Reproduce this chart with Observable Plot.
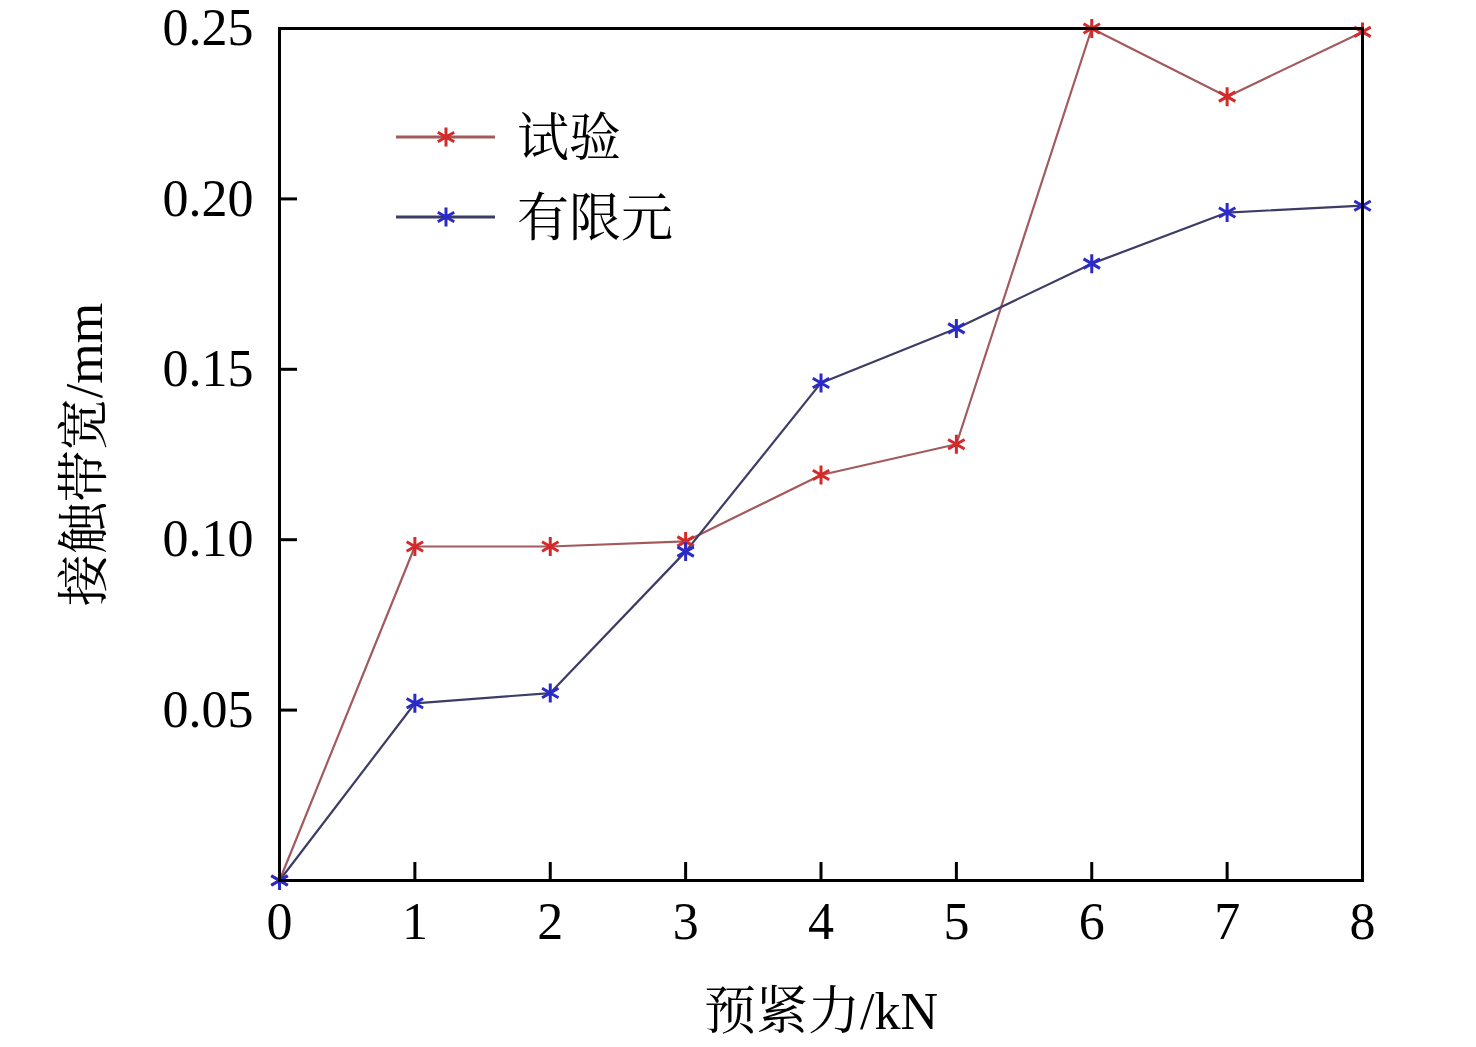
<!DOCTYPE html>
<html>
<head>
<meta charset="utf-8">
<script src="https://cdn.jsdelivr.net/npm/d3@7"></script>
<script src="https://cdn.jsdelivr.net/npm/@observablehq/plot@0.6"></script>
<style>
  html, body { margin: 0; padding: 0; background: #fff; }
  #chart svg { display: block; }
</style>
</head>
<body>
<div id="chart"></div>
<script>
const preload = [0, 1, 2, 3, 4, 5, 6, 7, 8];
const testValues = [0, 0.098, 0.098, 0.0995, 0.119, 0.128, 0.250, 0.230, 0.249];
const feaValues  = [0, 0.052, 0.055, 0.0965, 0.146, 0.162, 0.181, 0.196, 0.198];
const seriesNames = ["试验", "有限元"];
const xTicks = [0, 1, 2, 3, 4, 5, 6, 7, 8];
const yTicks = [0.05, 0.10, 0.15, 0.20, 0.25];
const xLabel = "预紧力/kN";
const yLabel = "接触带宽/mm";

const lineColors = ["#a25a5e", "#3c3c66"];
const markColors = ["#d42a2a", "#2a2ac8"];

const data = [];
preload.forEach((x, i) => data.push({x, y: testValues[i], s: seriesNames[0]}));
preload.forEach((x, i) => data.push({x, y: feaValues[i], s: seriesNames[1]}));

const W = 1476, H = 1047;
const mL = 279, mR = 114, mT = 28, mB = 167;
const pw = W - mL - mR, ph = H - mT - mB;
const FONT = '"Liberation Serif", "Noto Serif CJK SC", "Noto Sans CJK SC", serif';

const chart = Plot.plot({
  width: W, height: H,
  marginLeft: mL, marginRight: mR, marginTop: mT, marginBottom: mB,
  style: {fontFamily: FONT, fontSize: "52px", color: "#000", background: "#fff"},
  x: {domain: [0, 8]},
  y: {domain: [0, 0.25]},
  color: {domain: seriesNames, range: lineColors},
  marks: [
    Plot.axisX(xTicks, {tickSize: 0, tickPadding: 22, fontSize: 52, label: null, tickFormat: d => String(d)}),
    Plot.axisY(yTicks, {tickSize: 0, tickPadding: 26, fontSize: 52, label: null, tickFormat: d3.format(".2f")}),
    Plot.tickX(xTicks, {x: d => d, insetTop: ph - 18, stroke: "#000", strokeWidth: 3}),
    Plot.tickY(yTicks, {y: d => d, insetRight: pw - 18, stroke: "#000", strokeWidth: 3}),
    Plot.line(data, {x: "x", y: "y", z: "s", stroke: "s", strokeWidth: 2.2}),
    Plot.dot(data, {x: "x", y: "y", symbol: "asterisk", r: 9, strokeWidth: 3,
      stroke: d => d.s === seriesNames[0] ? markColors[0] : markColors[1]}),
    Plot.frame({stroke: "#000", strokeWidth: 3}),
    Plot.text([xLabel], {frameAnchor: "bottom", lineAnchor: "middle", dy: 132, fontSize: 52, fill: "#000"}),
    Plot.text([yLabel], {frameAnchor: "left", lineAnchor: "middle", textAnchor: "middle", dx: -194, rotate: -90, fontSize: 52, fill: "#000"})
  ]
});

document.getElementById("chart").appendChild(chart);

// legend
const svg = d3.select(chart);
const lg = svg.append("g").attr("font-family", FONT).attr("font-size", 52).attr("text-anchor", "start");
const legendRows = [137, 217];
seriesNames.forEach((name, i) => {
  const y = legendRows[i];
  lg.append("line").attr("x1", 396).attr("x2", 495).attr("y1", y).attr("y2", y)
    .attr("stroke", lineColors[i]).attr("stroke-width", 3);
  lg.append("path").attr("transform", `translate(446,${y})`)
    .attr("d", d3.symbol(d3.symbolAsterisk, Math.PI * 81)())
    .attr("stroke", markColors[i]).attr("stroke-width", 3).attr("fill", "none");
  lg.append("text").attr("x", 517).attr("y", y).attr("dy", "0.36em").text(name).attr("fill", "#000");
});
</script>
</body>
</html>
